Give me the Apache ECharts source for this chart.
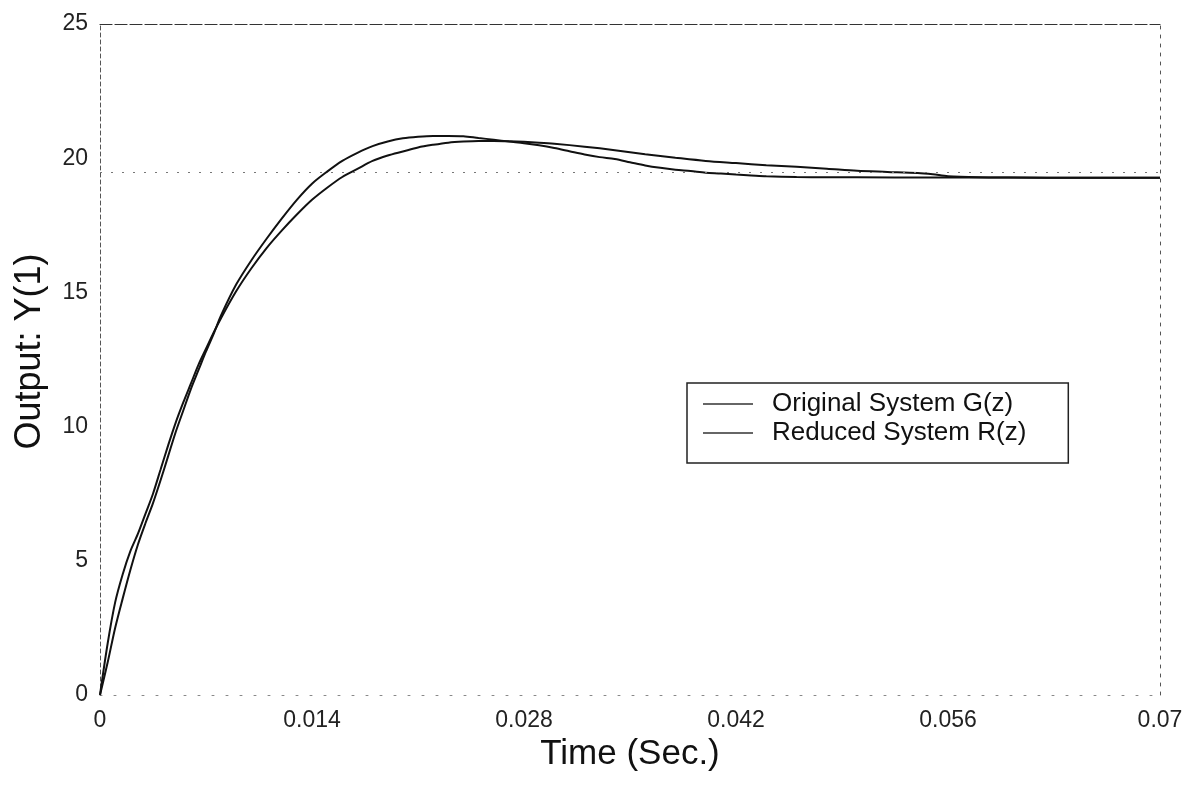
<!DOCTYPE html>
<html><head><meta charset="utf-8">
<script src="https://cdn.jsdelivr.net/npm/echarts@6/dist/echarts.min.js"></script>
<style>html,body{margin:0;padding:0;background:#fff}#c{width:1195px;height:787px}</style>
</head><body><div id="c"></div>
<script>
const seriesNames = ['Original System G(z)', 'Reduced System R(z)'];
const timeA = [0, 0.0005, 0.001, 0.0015, 0.002, 0.0025, 0.003, 0.0035, 0.004, 0.0045, 0.005, 0.0055, 0.006, 0.0065, 0.007, 0.0075, 0.008,
  0.009, 0.010, 0.011, 0.012, 0.013, 0.014, 0.015, 0.016, 0.017, 0.018, 0.019, 0.020, 0.021, 0.022, 0.023, 0.024, 0.025, 0.026, 0.027, 0.028,
  0.029, 0.030, 0.031, 0.032, 0.033, 0.034, 0.035, 0.036, 0.037, 0.038, 0.039, 0.040, 0.041, 0.042, 0.043, 0.044, 0.046, 0.048, 0.050,
  0.055, 0.060, 0.065, 0.070];
const valuesA = [0, 1.2, 2.5, 3.6, 4.65, 5.6, 6.4, 7.15, 8.0, 8.9, 9.8, 10.6, 11.4, 12.1, 12.8, 13.45, 14.15,
  15.3, 16.2, 17.0, 17.75, 18.45, 19.05, 19.5, 19.9, 20.2, 20.45, 20.62, 20.74, 20.8, 20.83, 20.83, 20.82, 20.75, 20.69, 20.62, 20.56,
  20.48, 20.38, 20.26, 20.14, 20.04, 19.97, 19.85, 19.73, 19.64, 19.57, 19.52, 19.46, 19.43, 19.39, 19.36, 19.33, 19.3, 19.29, 19.29,
  19.28, 19.28, 19.27, 19.27];
const timeB = [0, 0.0005, 0.001, 0.0015, 0.002, 0.0025, 0.003, 0.0035, 0.004, 0.0045, 0.005, 0.0055, 0.006, 0.0065, 0.007, 0.0075, 0.008,
  0.009, 0.010, 0.011, 0.012, 0.013, 0.014, 0.015, 0.016, 0.017, 0.018, 0.019, 0.020, 0.021, 0.022, 0.023, 0.024, 0.025, 0.026, 0.027, 0.028,
  0.029, 0.030, 0.032, 0.034, 0.036, 0.038, 0.040, 0.042, 0.044, 0.046, 0.048, 0.050, 0.052, 0.054,
  0.055, 0.056, 0.058, 0.060, 0.065, 0.070];
const valuesB = [0, 1.9, 3.45, 4.5, 5.35, 6.0, 6.75, 7.5, 8.4, 9.3, 10.15, 10.9, 11.6, 12.3, 12.9, 13.5, 14.05,
  15.05, 15.9, 16.65, 17.3, 17.9, 18.45, 18.9, 19.3, 19.6, 19.9, 20.1, 20.25, 20.4, 20.5, 20.58, 20.62, 20.64, 20.64, 20.63, 20.61,
  20.58, 20.54, 20.43, 20.3, 20.15, 20.02, 19.9, 19.82, 19.74, 19.68, 19.61, 19.53, 19.49, 19.45,
  19.4, 19.33, 19.29, 19.28, 19.27, 19.27];
const refLevel = [19.48];
const xTicks = { min: 0, max: 0.07, interval: 0.014 };
const yTicks = { min: 0, max: 25, interval: 5 };

const pairs = (t, v) => t.map((x, i) => [x, v[i]]);
const FONT = 'Liberation Sans, Arial, sans-serif';
const chart = echarts.init(document.getElementById('c'));
chart.setOption({
  animation: false,
  backgroundColor: '#fff',
  grid: { left: 100, right: 35, top: 24, bottom: 92 },
  legend: {
    orient: 'vertical', left: 687, top: 383,
    backgroundColor: '#fff', borderColor: '#222', borderWidth: 1.5,
    padding: [8, 42, 17, 16],
    icon: 'rect', itemWidth: 50, itemHeight: 1.5, itemGap: 3,
    itemStyle: { color: '#333' },
    textStyle: { fontSize: 26, color: '#111', fontFamily: FONT, padding: [0, 0, 0, 14] },
    data: seriesNames
  },
  xAxis: [{
    type: 'value', min: xTicks.min, max: xTicks.max, interval: xTicks.interval,
    name: 'Time (Sec.)', nameLocation: 'middle', nameGap: 42,
    nameTextStyle: { fontSize: 35, color: '#111', fontFamily: FONT },
    axisLine: { onZero: false, lineStyle: { color: '#888', width: 1, type: [2, 12] } },
    axisTick: { show: false }, splitLine: { show: false },
    axisLabel: { fontSize: 23, color: '#222', fontFamily: FONT, margin: 14,
      formatter: v => v === 0 ? '0' : String(+v.toFixed(3)) }
  }, {
    type: 'value', position: 'top', min: xTicks.min, max: xTicks.max,
    axisLine: { onZero: false, lineStyle: { color: '#333', width: 1.2, type: [12, 3] } },
    axisTick: { show: false }, splitLine: { show: false }, axisLabel: { show: false }
  }],
  yAxis: [{
    type: 'value', min: yTicks.min, max: yTicks.max, interval: yTicks.interval,
    name: 'Output: Y(1)', nameLocation: 'middle', nameGap: 52,
    nameTextStyle: { fontSize: 36, color: '#111', fontFamily: FONT, padding: [0, 0, 0, 16] },
    axisLine: { onZero: false, lineStyle: { color: '#555', width: 1, type: [4, 3] } },
    axisTick: { show: false }, splitLine: { show: false },
    axisLabel: { fontSize: 23, color: '#222', fontFamily: FONT, margin: 12 }
  }, {
    type: 'value', position: 'right', min: yTicks.min, max: yTicks.max,
    axisLine: { onZero: false, lineStyle: { color: '#555', width: 1, type: [3, 6] } },
    axisTick: { show: false }, splitLine: { show: false }, axisLabel: { show: false }
  }],
  series: [{
    name: seriesNames[0], type: 'line', data: pairs(timeA, valuesA),
    symbol: 'none', smooth: 0.3,
    lineStyle: { color: '#111', width: 2 }, itemStyle: { color: '#111' },
    markLine: {
      silent: true, symbol: 'none', label: { show: false },
      lineStyle: { color: '#777', width: 1, type: [2, 9] },
      data: [{ yAxis: refLevel[0] }]
    }
  }, {
    name: seriesNames[1], type: 'line', data: pairs(timeB, valuesB),
    symbol: 'none', smooth: 0.3,
    lineStyle: { color: '#111', width: 2 }, itemStyle: { color: '#111' }
  }]
});
</script></body></html>
